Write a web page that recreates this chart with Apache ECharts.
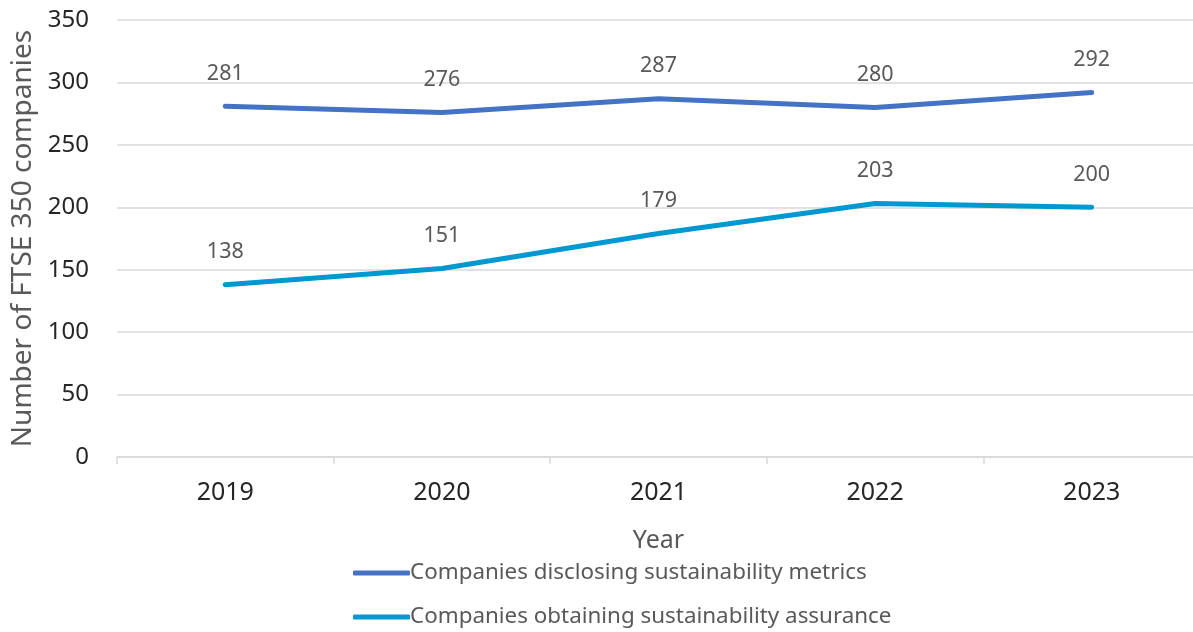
<!DOCTYPE html>
<html>
<head>
<meta charset="utf-8">
<style>
  html, body { margin: 0; padding: 0; background: #fff; }
  #chart { width: 1193px; height: 632px; }
</style>
<script src="https://cdn.jsdelivr.net/npm/echarts@6/dist/echarts.min.js"></script>
</head>
<body>
<div id="chart"></div>
<script>
// Years on the x axis
const years = ['2019', '2020', '2021', '2022', '2023'];
// FTSE 350 companies disclosing sustainability metrics
const disclosing = [281, 276, 287, 280, 292];
// FTSE 350 companies obtaining sustainability assurance
const assurance = [138, 151, 179, 203, 200];
const seriesNames = [
  'Companies disclosing sustainability metrics',
  'Companies obtaining sustainability assurance'
];
const colors = ['#4472c4', '#0098d1'];

const FONT = '"Noto Sans", "Open Sans", sans-serif';
const chart = echarts.init(document.getElementById('chart'), null, { renderer: 'canvas' });

function lineSeries(name, data, color) {
  return {
    name: name,
    type: 'line',
    data: data,
    // tiny symbol so the value labels are rendered; it sits under the line
    symbol: 'circle',
    symbolSize: 1,
    showSymbol: true,
    lineStyle: { color: color, width: 5, cap: 'round', join: 'round' },
    itemStyle: { color: color },
    label: {
      show: true,
      position: 'top',
      distance: 21,
      color: '#595959',
      fontFamily: FONT,
      fontSize: 21.5
    },
    emphasis: { disabled: true }
  };
}

// one legend block per series, stacked under the axis title
function legendRow(name, top) {
  return {
    orient: 'vertical',
    left: 348,
    top: top,
    itemWidth: 57,
    itemHeight: 5,
    icon: 'roundRect',
    textStyle: { color: '#595959', fontFamily: FONT, fontSize: 22.4, padding: [0, 0, 0, -5] },
    data: [name]
  };
}

chart.setOption({
  animation: false,
  backgroundColor: '#ffffff',
  // the plot runs slightly past the right edge of the canvas
  grid: { left: 117, right: -7, top: 20, bottom: 175, containLabel: false, outerBoundsMode: 'none' },
  xAxis: {
    type: 'category',
    data: years,
    boundaryGap: true,
    name: 'Year',
    nameLocation: 'middle',
    nameGap: 71,
    nameTextStyle: { color: '#595959', fontFamily: FONT, fontSize: 25 },
    axisLine: { lineStyle: { color: '#d9d9d9', width: 1.5 } },
    axisTick: { show: true, length: 7, lineStyle: { color: '#d9d9d9', width: 1.5 } },
    axisLabel: { color: '#262626', fontFamily: FONT, fontSize: 25, margin: 23 }
  },
  yAxis: {
    type: 'value',
    min: 0,
    max: 350,
    interval: 50,
    name: 'Number of FTSE 350 companies',
    nameLocation: 'middle',
    nameGap: 80,
    nameTextStyle: { color: '#595959', fontFamily: FONT, fontSize: 28 },
    axisLine: { show: false },
    axisTick: { show: false },
    axisLabel: { color: '#262626', fontFamily: FONT, fontSize: 24, margin: 28 },
    splitLine: { lineStyle: { color: '#d9d9d9', width: 1.5 } }
  },
  legend: [
    legendRow(seriesNames[0], 557),
    legendRow(seriesNames[1], 601)
  ],
  series: [
    lineSeries(seriesNames[0], disclosing, colors[0]),
    lineSeries(seriesNames[1], assurance, colors[1])
  ]
});
</script>
</body>
</html>
